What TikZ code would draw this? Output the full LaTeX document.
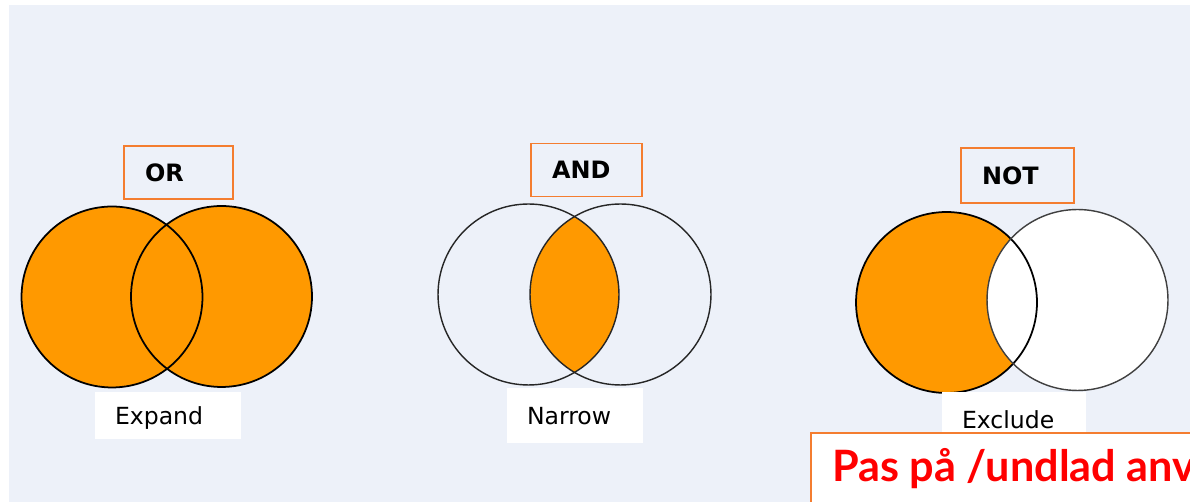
\documentclass[tikz,border=0pt]{standalone}
\usepackage{fontspec}
\setmainfont{DejaVu Sans}
\newfontfamily\warnfont{Lato}

\definecolor{panelblue}{HTML}{EDF1F9}
\definecolor{vennorange}{HTML}{FF9900}
\definecolor{boxorange}{HTML}{F47D30}
\definecolor{warnred}{HTML}{FF0000}

\begin{document}
\begin{tikzpicture}[
  x=0.02cm, y=-0.02cm,
  ring/.style={line width=0.8pt, draw=black!85},
  opbox/.style={draw=boxorange, line width=0.9pt, minimum height=1.06cm,
    inner xsep=0.42cm, inner ysep=0pt, align=left, text width=#1,
    font=\fontsize{13.6}{16}\selectfont\bfseries},
  capbox/.style={fill=white, minimum height=1.1cm, inner xsep=0.4cm,
    inner ysep=0pt, align=left, text width=#1, text depth=0pt,
    font=\fontsize{13.4}{16}\selectfont},
  warntext/.style={text=warnred, inner sep=0pt,
    font=\warnfont\fontsize{24.6}{28}\selectfont\bfseries}
]

% -----------------------
% Page and panel
% -----------------------
\useasboundingbox (0,0) rectangle (1190,502);
\clip (0,0) rectangle (1190,502);
\fill[white] (0,0) rectangle (1190,502);
\fill[panelblue] (9,5) rectangle (1190,502);

\def\rad{1.81cm}

% circle centres (left / right of each pair)
\coordinate (orL)  at (112,297);
\coordinate (orR)  at (221.5,296.5);
\coordinate (andL) at (528.5,294.5);
\coordinate (andR) at (620.5,294.5);
\coordinate (notL) at (946.5,302.5);
\coordinate (notR) at (1077.5,300);

% -----------------------
% OR: both circles
% -----------------------
\fill[vennorange] (orL) circle [radius=\rad];
\fill[vennorange] (orR) circle [radius=\rad];
\draw[ring, draw=black, line width=1pt] (orL) circle [radius=\rad];
\draw[ring, draw=black, line width=1pt] (orR) circle [radius=\rad];

\node[opbox=1.34cm] (orbox) at (178.5,172.5) {OR};
\node[capbox=2.12cm, minimum height=0.94cm] (expand) at (168,415.5) {Expand};

% -----------------------
% AND: only the overlap
% -----------------------
\begin{scope}
  \clip (andL) circle [radius=\rad];
  \fill[vennorange] (andR) circle [radius=\rad];
\end{scope}
\draw[ring] (andL) circle [radius=\rad];
\draw[ring] (andR) circle [radius=\rad];

\node[opbox=1.38cm] (andbox) at (586.5,170) {AND};
\node[capbox=1.92cm] (narrow) at (575,415.5) {Narrow};

% -----------------------
% NOT: left circle without the overlap
% -----------------------
\fill[vennorange] (notL) circle [radius=\rad];
\fill[white] (notR) circle [radius=\rad];
\draw[ring, draw=black, line width=1pt] (notL) circle [radius=\rad];
\draw[ring, draw=black!75] (notR) circle [radius=\rad];

\node[opbox=1.42cm, minimum height=1.1cm] (notbox) at (1017.5,175.5) {NOT};
\node[capbox=2.08cm] (exclude) at (1014,419.5) {Exclude};

% warning (runs off the page)
\draw[draw=boxorange, line width=0.9pt, fill=white] (811,433) rectangle (1220,530);
\node[warntext, anchor=base west] (warn) at (832,482) {Pas på /undlad anv};

\end{tikzpicture}
\end{document}
